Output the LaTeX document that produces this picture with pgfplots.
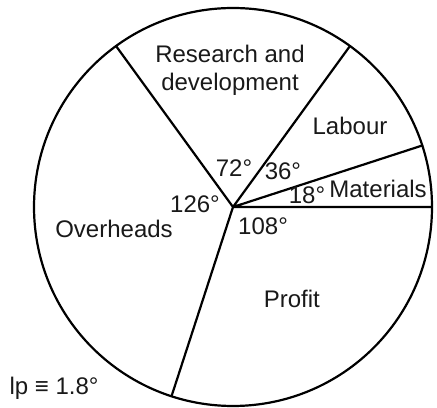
\documentclass[border=0pt]{standalone}
\usepackage{pgfplots}
\pgfplotsset{compat=1.18}
\usepackage{fontspec}
\setmainfont{Liberation Sans}
\tikzset{lab/.style={font=\fontsize{24bp}{28bp}\selectfont, inner sep=0pt, anchor=base, text=black!90}}
\begin{document}
\begin{tikzpicture}
\begin{axis}[width=437bp, height=408bp, scale only axis, hide axis,
  xmin=-1.1709, xmax=1.0251, ymin=-1.0101, ymax=1.0402, clip=false]
\path (rel axis cs:0,0) rectangle (rel axis cs:1,1);
% pie outline
\draw[line width=2.2bp] (axis cs:0,0) circle [radius=1];
% sector boundaries (angles in degrees: Materials 18, Labour 36, R&D 72, Overheads 126, Profit 108)
\addplot[line width=2.2bp, line join=round, data cs=polar, mark=none]
  coordinates {(0,1) (0,0) (18,1) (0,0) (54,1) (0,0) (126,1) (0,0) (252,1)};
% labels
\node[lab] at (axis cs:-0.015,0.724) {Research and};
\node[lab] at (axis cs:-0.015,0.583) {development};
\node[lab] at (axis cs:0.588,0.362) {Labour};
\node[lab] at (axis cs:0.729,0.050) {Materials};
\node[lab] at (axis cs:0.372,0.020) {18°};
\node[lab] at (axis cs:0.251,0.136) {36°};
\node[lab] at (axis cs:0.005,0.151) {72°};
\node[lab] at (axis cs:-0.191,-0.030) {126°};
\node[lab] at (axis cs:0.151,-0.136) {108°};
\node[lab] at (axis cs:-0.598,-0.151) {Overheads};
\node[lab] at (axis cs:0.296,-0.503) {Profit};
\node[lab] at (axis cs:-0.899,-0.940) {lp ≡ 1.8°};
\end{axis}
\end{tikzpicture}
\end{document}
